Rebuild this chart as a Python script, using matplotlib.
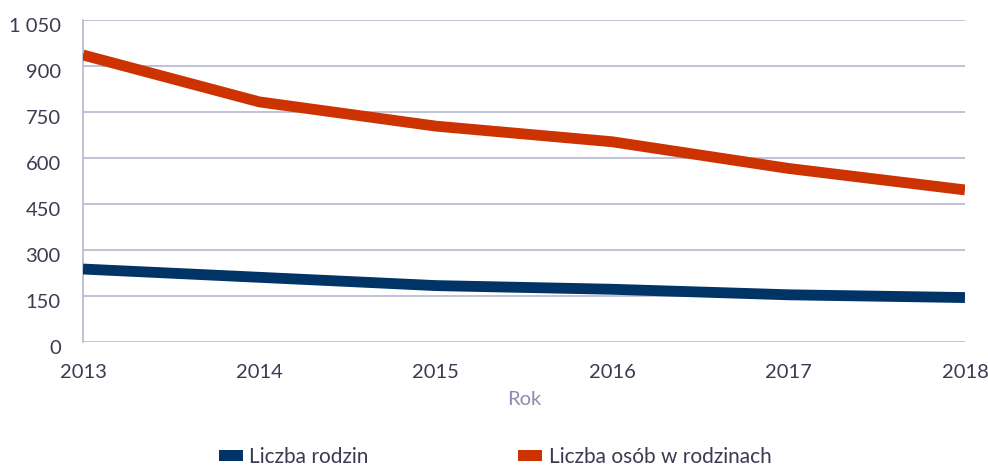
import matplotlib.pyplot as plt
import matplotlib.transforms as mtransforms
from matplotlib.patches import Patch

plt.rcParams['font.family'] = ['Lato', 'DejaVu Sans']

years = ['2013', '2014', '2015', '2016', '2017', '2018']
rodziny = [238, 211, 184, 172, 154, 145]
osoby = [936, 783, 704, 653, 566, 496]
y_ticks = [0, 150, 300, 450, 600, 750, 900, 1050]
y_labels = ['0', '150', '300', '450', '600', '750', '900', '1 050']

blue = '#003366'
orange = '#CC3300'
grid_col = '#B4B8CE'
text_col = '#3A3A52'

fig = plt.figure(figsize=(9.88, 4.70), dpi=100)
ax = fig.add_axes([0.084, 0.2723, 0.8927, 0.6851])

x = range(len(years))
ax.plot(x, rodziny, color=blue, lw=7.8, solid_capstyle='butt', solid_joinstyle='round', zorder=3)
ax.plot(x, osoby, color=orange, lw=7.8, solid_capstyle='butt', solid_joinstyle='round', zorder=3)

ax.set_xlim(0, len(years) - 1)
ax.set_ylim(0, 1050)
ax.set_yticks(y_ticks)
ax.set_yticklabels(y_labels)
ax.set_xticks(list(x))
ax.set_xticklabels(years)
ax.tick_params(length=0, labelsize=14.5, colors=text_col)
ax.tick_params(axis='y', pad=16)
ax.tick_params(axis='x', pad=16)

# y labels sit a little below their gridlines in the original
shift = mtransforms.ScaledTranslation(0, -5 / 100, fig.dpi_scale_trans)
for lab in ax.get_yticklabels():
    lab.set_transform(lab.get_transform() + shift)

ax.grid(axis='y', color=grid_col, lw=1.2, zorder=1)
for s in ['top', 'right', 'bottom']:
    ax.spines[s].set_visible(False)
ax.spines['left'].set_color(grid_col)
ax.spines['left'].set_linewidth(1.2)

ax.set_xlabel('Rok', fontsize=14.5, color='#8A8EB0', labelpad=7)

handles = [Patch(facecolor=blue, edgecolor='none'), Patch(facecolor=orange, edgecolor='none')]
fig.legend(handles, ['Liczba rodzin', 'Liczba osób w rodzinach'], loc='center',
           bbox_to_anchor=(0.501, 0.028), ncol=2, frameon=False, fontsize=15,
           handlelength=1.15, handleheight=0.45, handletextpad=0.3, columnspacing=7.2,
           labelcolor=text_col, borderpad=0.2)

fig.savefig('out.png', dpi=100)
